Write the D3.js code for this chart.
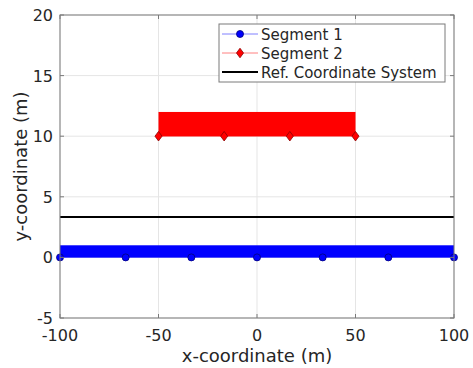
<!DOCTYPE html>
<html>
<head>
<meta charset="utf-8">
<script src="https://cdn.jsdelivr.net/npm/d3@7"></script>
<style>
  body { margin: 0; background: #fff; }
  text { font-family: 'DejaVu Sans', sans-serif; fill: #262626; }
</style>
</head>
<body>
<div id="root"></div>
<script>
// segment 1 sample points
const seg1X = [-100, -66.67, -33.33, 0, 33.33, 66.67, 100];
const seg1Y = [0, 0, 0, 0, 0, 0, 0];
// segment 2 sample points
const seg2X = [-50, -16.67, 16.67, 50];
const seg2Y = [10, 10, 10, 10];
// filled segment bodies [x0, x1, y0, y1]
const band1 = [-100, 100, 0, 1];
const band2 = [-50, 50, 10, 12];
// reference coordinate system line
const refX = [-100, 100];
const refY = [3.33, 3.33];

const xTicks = [-100, -50, 0, 50, 100];
const yTicks = [-5, 0, 5, 10, 15, 20];
const legendLabels = ['Segment 1', 'Segment 2', 'Ref. Coordinate System'];

const svgWidth = 473;
const svgHeight = 368;
const margin = { top: 15, right: 19, bottom: 50, left: 60 };
const w = svgWidth - margin.left - margin.right;
const h = svgHeight - margin.top - margin.bottom;

const svg = d3.select('#root').append('svg')
  .attr('width', svgWidth)
  .attr('height', svgHeight);

const chart = svg.append('g')
  .attr('transform', `translate(${margin.left}, ${margin.top})`);

const x = d3.scaleLinear().domain([-100, 100]).range([0, w]);
const y = d3.scaleLinear().domain([-5, 20]).range([h, 0]);

// grid
chart.append('g').selectAll('line').data(xTicks).enter().append('line')
  .attr('x1', d => x(d)).attr('x2', d => x(d))
  .attr('y1', 0).attr('y2', h)
  .attr('stroke', '#e5e5e5');
chart.append('g').selectAll('line').data(yTicks).enter().append('line')
  .attr('x1', 0).attr('x2', w)
  .attr('y1', d => y(d)).attr('y2', d => y(d))
  .attr('stroke', '#e5e5e5');

// bands
[[band1, '#0000ff'], [band2, '#ff0000']].forEach(([b, c]) => {
  chart.append('rect')
    .attr('x', x(b[0]))
    .attr('y', y(b[3]))
    .attr('width', x(b[1]) - x(b[0]))
    .attr('height', y(b[2]) - y(b[3]))
    .attr('fill', c);
});

// reference line
chart.append('path')
  .datum(refX.map((d, i) => [d, refY[i]]))
  .attr('d', d3.line().x(d => x(d[0])).y(d => y(d[1])))
  .attr('stroke', '#000')
  .attr('stroke-width', 2)
  .attr('fill', 'none');

// segment lines + markers
const line = d3.line().x(d => x(d[0])).y(d => y(d[1]));
const seg1 = seg1X.map((d, i) => [d, seg1Y[i]]);
const seg2 = seg2X.map((d, i) => [d, seg2Y[i]]);

chart.append('path').datum(seg1).attr('d', line)
  .attr('stroke', '#0000ff').attr('stroke-width', 0.5).attr('fill', 'none');
chart.append('path').datum(seg2).attr('d', line)
  .attr('stroke', '#ff0000').attr('stroke-width', 0.5).attr('fill', 'none');

chart.selectAll('circle.m1').data(seg1).enter().append('circle')
  .attr('cx', d => x(d[0])).attr('cy', d => y(d[1])).attr('r', 3.5)
  .attr('fill', '#0000ff').attr('stroke', '#00007a').attr('stroke-width', 0.8);

const diamond = d3.symbol().type(d3.symbolDiamond2).size(44);
chart.selectAll('path.m2').data(seg2).enter().append('path')
  .attr('d', diamond)
  .attr('transform', d => `translate(${x(d[0])},${y(d[1])}) scale(0.85,1.15)`)
  .attr('fill', '#ff0000').attr('stroke', '#8a0000').attr('stroke-width', 0.8);

// axes box
chart.append('rect')
  .attr('width', w).attr('height', h)
  .attr('fill', 'none').attr('stroke', '#7a7a7a').attr('stroke-width', 1);

// ticks (inside, both sides)
const tl = 4;
xTicks.forEach(t => {
  chart.append('line').attr('x1', x(t)).attr('x2', x(t)).attr('y1', h).attr('y2', h - tl).attr('stroke', '#7a7a7a');
  chart.append('line').attr('x1', x(t)).attr('x2', x(t)).attr('y1', 0).attr('y2', tl).attr('stroke', '#7a7a7a');
});
yTicks.forEach(t => {
  chart.append('line').attr('x1', 0).attr('x2', tl).attr('y1', y(t)).attr('y2', y(t)).attr('stroke', '#7a7a7a');
  chart.append('line').attr('x1', w).attr('x2', w - tl).attr('y1', y(t)).attr('y2', y(t)).attr('stroke', '#7a7a7a');
});

// tick labels
chart.append('g').selectAll('text').data(xTicks).enter().append('text')
  .attr('x', d => x(d)).attr('y', h + 23)
  .attr('text-anchor', 'middle')
  .style('font-size', '16px')
  .text(d => d);
chart.append('g').selectAll('text').data(yTicks).enter().append('text')
  .attr('x', -7).attr('y', d => y(d) + 6)
  .attr('text-anchor', 'end')
  .style('font-size', '16px')
  .text(d => d);

// axis labels
svg.append('text')
  .attr('x', margin.left + w / 2).attr('y', 362)
  .attr('text-anchor', 'middle')
  .style('font-size', '18px')
  .text('x-coordinate (m)');
svg.append('text')
  .attr('transform', `translate(27, ${margin.top + h / 2}) rotate(-90)`)
  .attr('text-anchor', 'middle')
  .style('font-size', '18px')
  .text('y-coordinate (m)');

// legend
const legend = svg.append('g').attr('transform', 'translate(219, 24)');
legend.append('rect')
  .attr('width', 226).attr('height', 58)
  .attr('fill', '#fff').attr('stroke', '#7a7a7a');
legendLabels.forEach((lab, i) => {
  const ly = 10 + i * 19;
  const g = legend.append('g').attr('transform', `translate(0, ${ly})`);
  const col = i === 0 ? '#8080ff' : i === 1 ? '#ff8080' : '#000';
  g.append('line').attr('x1', 3).attr('x2', 39).attr('y1', 0).attr('y2', 0)
    .attr('stroke', col).attr('stroke-width', i === 2 ? 2 : 1);
  if (i === 0) {
    g.append('circle').attr('cx', 21).attr('cy', 0).attr('r', 3.5)
      .attr('fill', '#0000ff').attr('stroke', '#00007a').attr('stroke-width', 0.8);
  } else if (i === 1) {
    g.append('path').attr('d', diamond)
      .attr('transform', 'translate(21,0) scale(0.85,1.15)')
      .attr('fill', '#ff0000').attr('stroke', '#8a0000').attr('stroke-width', 0.8);
  }
  g.append('text').attr('x', 42).attr('y', 5.5)
    .style('font-size', '15px')
    .text(lab);
});
</script>
</body>
</html>
